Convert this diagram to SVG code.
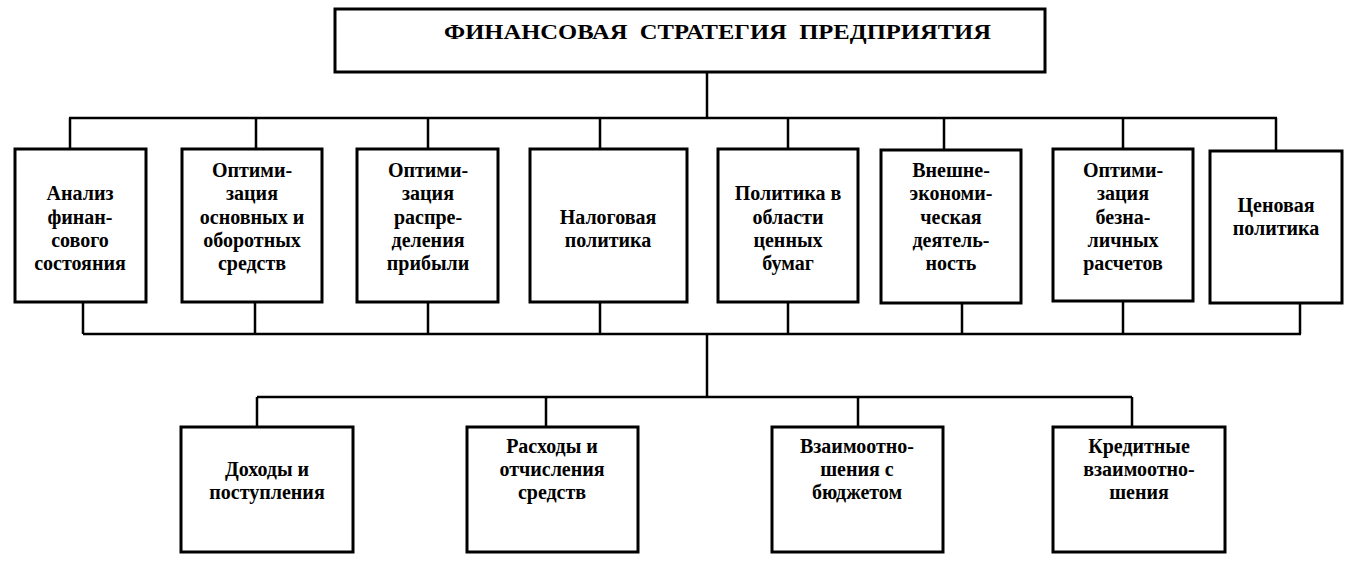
<svg xmlns="http://www.w3.org/2000/svg" width="1359" height="561" viewBox="0 0 1359 561">
<style>
.box{fill:#fff;stroke:#000;stroke-width:3}
.ln{fill:none;stroke:#000;stroke-width:2.5}
text{font-family:"Liberation Serif","Times New Roman",serif;font-weight:bold;font-size:20px;fill:#000;text-anchor:middle}
.title{font-size:22px;text-anchor:start;white-space:pre}
</style>
<rect width="1359" height="561" fill="#fff"/>
<g id="connectors">
<path class="ln" d="M707 72V118M69 118H1277M70 118V149M256 118V149M428 118V149M600 118V149M788 118V149M944 118V149M1123 118V149M1276 118V151"/>
<path class="ln" d="M83 302V334M255 302V334M428 302V334M600 302V334M788 302V334M962 303V334M1123 301V334M1300 303V334M83 334H1301"/>
<path class="ln" d="M707 334V397M257 397H1132M257 397V427M546 397V427M858 397V427M1132 397V427"/>
</g>
<g id="n0"><rect class="box" x="335" y="9" width="710" height="63"/><text class="title" x="444" y="39" textLength="547" lengthAdjust="spacingAndGlyphs" xml:space="preserve">ФИНАНСОВАЯ  СТРАТЕГИЯ  ПРЕДПРИЯТИЯ</text></g>
<g id="n1"><rect class="box" x="15" y="149" width="131" height="153"/><text x="80" y="200">Анализ</text><text x="80" y="224">финан-</text><text x="80" y="247">сового</text><text x="80" y="270">состояния</text></g>
<g id="n2"><rect class="box" x="182" y="149" width="140" height="153"/><text x="252" y="177">Оптими-</text><text x="252" y="200">зация</text><text x="252" y="224">основных и</text><text x="252" y="247">оборотных</text><text x="252" y="270">средств</text></g>
<g id="n3"><rect class="box" x="357" y="149" width="141" height="153"/><text x="428" y="177">Оптими-</text><text x="428" y="200">зация</text><text x="428" y="224">распре-</text><text x="428" y="247">деления</text><text x="428" y="270">прибыли</text></g>
<g id="n4"><rect class="box" x="530" y="149" width="157" height="153"/><text x="608" y="224">Налоговая</text><text x="608" y="247">политика</text></g>
<g id="n5"><rect class="box" x="718" y="149" width="140" height="153"/><text x="788" y="200">Политика в</text><text x="788" y="224">области</text><text x="788" y="247">ценных</text><text x="788" y="270">бумаг</text></g>
<g id="n6"><rect class="box" x="881" y="150" width="140" height="153"/><text x="951" y="177">Внешне-</text><text x="951" y="200">экономи-</text><text x="951" y="224">ческая</text><text x="951" y="247">деятель-</text><text x="951" y="270">ность</text></g>
<g id="n7"><rect class="box" x="1053" y="149" width="140" height="152"/><text x="1123" y="177">Оптими-</text><text x="1123" y="200">зация</text><text x="1123" y="224">безна-</text><text x="1123" y="247">личных</text><text x="1123" y="270">расчетов</text></g>
<g id="n8"><rect class="box" x="1210" y="151" width="132" height="152"/><text x="1276" y="212">Ценовая</text><text x="1276" y="235">политика</text></g>
<g id="n9"><rect class="box" x="181" y="427" width="172" height="125"/><text x="267" y="476">Доходы и</text><text x="267" y="499">поступления</text></g>
<g id="n10"><rect class="box" x="467" y="427" width="171" height="125"/><text x="552" y="453">Расходы и</text><text x="552" y="476">отчисления</text><text x="552" y="499">средств</text></g>
<g id="n11"><rect class="box" x="772" y="427" width="171" height="125"/><text x="857" y="453">Взаимоотно-</text><text x="857" y="476">шения с</text><text x="857" y="499">бюджетом</text></g>
<g id="n12"><rect class="box" x="1053" y="427" width="172" height="125"/><text x="1139" y="453">Кредитные</text><text x="1139" y="476">взаимоотно-</text><text x="1139" y="499">шения</text></g>
</svg>
